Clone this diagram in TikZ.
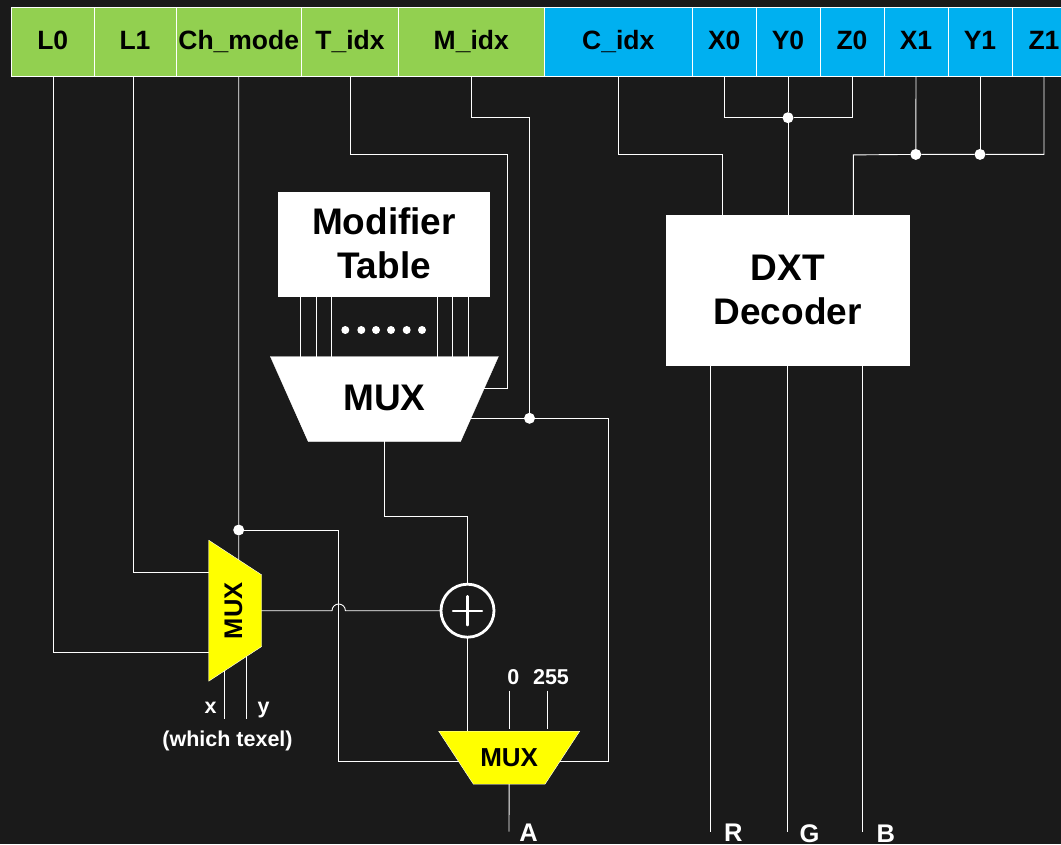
\documentclass[tikz,border=0pt]{standalone}
\usepackage{fontspec}
\setmainfont{Liberation Sans}
\usetikzlibrary{calc,shapes.geometric}
\definecolor{panel}{RGB}{26,26,26}
\definecolor{leaf}{RGB}{146,208,80}
\definecolor{sky}{RGB}{0,176,240}
\definecolor{lemon}{RGB}{255,255,0}
\pgfdeclarelayer{wires}
\pgfsetlayers{wires,main}
\tikzset{
    wire/.style={draw=white, line width=0.9pt},
    field/.style={draw=white, line width=0.9pt, inner sep=0pt, outer sep=0pt, minimum height=68.7pt, text height=18pt, text depth=2pt, font=\fontsize{26.5}{30}\selectfont\bfseries},
    block/.style={draw=white, fill=white, inner sep=0pt, outer sep=0pt, align=center, font=\fontsize{37}{45}\selectfont\bfseries},
    bigmux/.style={trapezium, shape border rotate=180, trapezium stretches body=true, draw=white, fill=white, inner sep=0pt, outer sep=0pt, minimum width=228pt, text height=53.6pt, text depth=31.4pt, trapezium left angle=66, trapezium right angle=66, font=\fontsize{37}{45}\selectfont\bfseries},
    smallmux/.style={trapezium, shape border rotate=180, trapezium stretches body=true, draw=white, fill=lemon, inner sep=0pt, outer sep=0pt, minimum width=141pt, text height=34.8pt, text depth=18.2pt, trapezium left angle=56.8, trapezium right angle=56.8, font=\fontsize{26}{30}\selectfont\bfseries},
    tiny/.style={white, inner sep=0pt, anchor=base, font=\fontsize{21.5}{25}\selectfont\bfseries},
    pin/.style={white, inner sep=0pt, anchor=base, font=\fontsize{25.5}{30}\selectfont\bfseries},
    joint/.style={circle, fill=white, inner sep=0pt, outer sep=0pt, minimum size=11pt},
    pad/.style={circle, fill=white, inner sep=0pt, minimum size=8pt}
}
\begin{document}
\begin{tikzpicture}[x=1pt, y=-1pt]

    \useasboundingbox (0,0) rectangle (1061,844);

    % Instruction word
    \foreach \name/\lo/\hi/\txt/\col in {lzero/11.5/94/L0/leaf, lone/94/176/L1/leaf, chmode/176/301.5/Ch\_mode/leaf, tidx/301.5/398.5/T\_idx/leaf, midx/398.5/544/M\_idx/leaf, cidx/544/692.5/C\_idx/sky, xzero/692.5/756/X0/sky, yzero/756/820/Y0/sky, zzero/820/884/Z0/sky, xone/884/948/X1/sky, yone/948/1012/Y1/sky, zone/1012/1076/Z1/sky} {
        \pgfmathsetmacro{\mid}{(\lo+\hi)/2}
        \pgfmathsetmacro{\wid}{\hi-\lo}
        \node[field, fill=\col, minimum width=\wid pt] (\name) at (\mid,41.6) {\txt};
    }

    % Blocks
    \node[block, minimum width=211pt, minimum height=103.7pt] (table) at (384,244.3) {\raisebox{2pt}{Modifier}\\\raisebox{3pt}{Table}};
    \node[bigmux] (muxtable) at (384.4,399) {MUX};
    \node[block, minimum width=243pt, minimum height=150pt] (decoder) at (787.7,290.5) {\raisebox{1pt}{DXT}\\\raisebox{2pt}{Decoder}};
    \node[smallmux, rotate=90, text height=33.5pt, text depth=19.5pt] (muxtexel) at (235.2,610.7) {\fontsize{25.5}{30}\selectfont MUX};
    \node[smallmux] (muxalpha) at (509.2,757.7) {MUX};
    \node[circle, draw=white, fill=panel, line width=2.8pt, inner sep=0pt, outer sep=0pt, minimum size=53pt] (adder) at (467.5,610.7) {};
    \draw[white, line width=2.4pt, line cap=round] (adder.center) ++(-14.5,0) -- ++(29,0);
    \draw[white, line width=2.4pt, line cap=round] (adder.center) ++(0,-14.5) -- ++(0,29);

    % Dots between the table outputs
    \foreach \i/\px in {1/345.3, 2/361.3, 3/376, 4/391, 5/406.7, 6/422}
        \node[pad] (pad\i) at (\px,330) {};

    % Joints
    \node[joint] (jointlow) at (788,117.7) {};
    \node[joint] (jointxone) at (915.8,154.4) {};
    \node[joint] (jointyone) at (980,154.4) {};
    \node[joint] (jointsel) at (529.5,418.3) {};
    \node[joint] (jointch) at (238.7,530) {};

    % Labels
    \node[tiny] (labx) at (210.7,713) {x};
    \node[tiny] (laby) at (263.7,713) {y};
    \node[tiny] (labtexel) at (227.5,746) {(which texel)};
    \node[tiny] (labzero) at (513.3,684.5) {0};
    \node[tiny] (labmax) at (551,684.5) {255};
    \node[pin] (laba) at (528.5,841.5) {A};
    \node[pin] (labr) at (733.3,841.5) {R};
    \node[pin] (labg) at (809.6,842.5) {G};
    \node[pin] (labb) at (885.7,842.5) {B};

    % Free ends
    \coordinate (hop) at (338.7,610.7);
    \coordinate (xend) at (224,718.7);
    \coordinate (yend) at (246.3,718.7);
    \coordinate (zeroend) at (509.7,690.7);
    \coordinate (maxend) at (547.3,690.7);
    \coordinate (aend) at (509,831.7);
    \coordinate (rend) at (710.7,831.7);
    \coordinate (gend) at (787.7,831.7);
    \coordinate (bend) at (862.7,831.7);
    \coordinate (tturn) at (507.6,154.4);
    \coordinate (mturn) at (529.5,117.5);
    \coordinate (outer) at (608.3,761);
    \coordinate (alphain) at (509.2,761);

    \begin{pgfonlayer}{wires}
    \fill[panel] (0,0) rectangle (1061,844);

    % Word to the left part
    \draw[wire] ($(lzero.south)+(1,0)$) |- ($(muxtexel.center)+(0,41.3)$);
    \draw[wire] ($(lone.south)+(-1.6,0)$) |- ($(muxtexel.center)+(0,-38)$);
    \draw[wire] (chmode.south) -- (jointch) -- (jointch |- muxtexel.center);
    \draw[wire] (tidx.south) |- (tturn) |- ($(muxtable.center)+(0,-10.7)$);
    \draw[wire] (midx.south) |- (mturn) -- (jointsel);

    % Table to multiplexer
    \foreach \px in {300.7, 316.3, 331.3, 437.7, 452.7, 468}
        \draw[wire] (\px,296) -- (\px,400);

    % Alpha path
    \draw[wire] (muxtable.center) |- ($(adder.north)+(0,-68)$) -- (adder.north);
    \draw[wire] (muxtexel.center) -- ($(hop)+(-6.7,0)$) arc[start angle=180, end angle=360, radius=6.7] -- (adder.west);
    \draw[wire] (adder.south) -- (adder.south |- muxalpha.center);
    \draw[wire] (jointch) -| (hop) |- (alphain);
    \draw[wire] (muxtable.center |- jointsel) -- (jointsel) -| (outer) -- (alphain);
    \draw[wire, shorten >=2pt] (zeroend) -- (zeroend |- muxalpha.north);
    \draw[wire, shorten >=2pt] (maxend) -- (maxend |- muxalpha.north);
    \draw[wire] (muxalpha.center) -- (aend);

    % Texel selection
    \draw[wire] (xend) -- (xend |- muxtexel.center);
    \draw[wire] (yend) -- (yend |- muxtexel.center);

    % Word to the decoder
    \draw[wire] (xzero.south) |- (jointlow) -| (zzero.south);
    \draw[wire] (yzero.south) -- (jointlow) -- (jointlow |- decoder.north);
    \draw[wire] (cidx.south) |- ($(decoder.north)+(-65.7,-60.6)$) -- ($(decoder.north)+(-65.7,0)$);
    \draw[wire] (zone.south) |- (jointyone) -- (jointxone) -- ($(decoder.north)+(65.7,-60.6)$) -- ($(decoder.north)+(65.7,0)$);
    \draw[wire] (xone.south) -- (jointxone);
    \draw[wire] (yone.south) -- (jointyone);

    % Decoder outputs
    \draw[wire] (rend |- decoder.south) -- (rend);
    \draw[wire] (gend |- decoder.south) -- (gend);
    \draw[wire] (bend |- decoder.south) -- (bend);
    \end{pgfonlayer}

\end{tikzpicture}
\end{document}
